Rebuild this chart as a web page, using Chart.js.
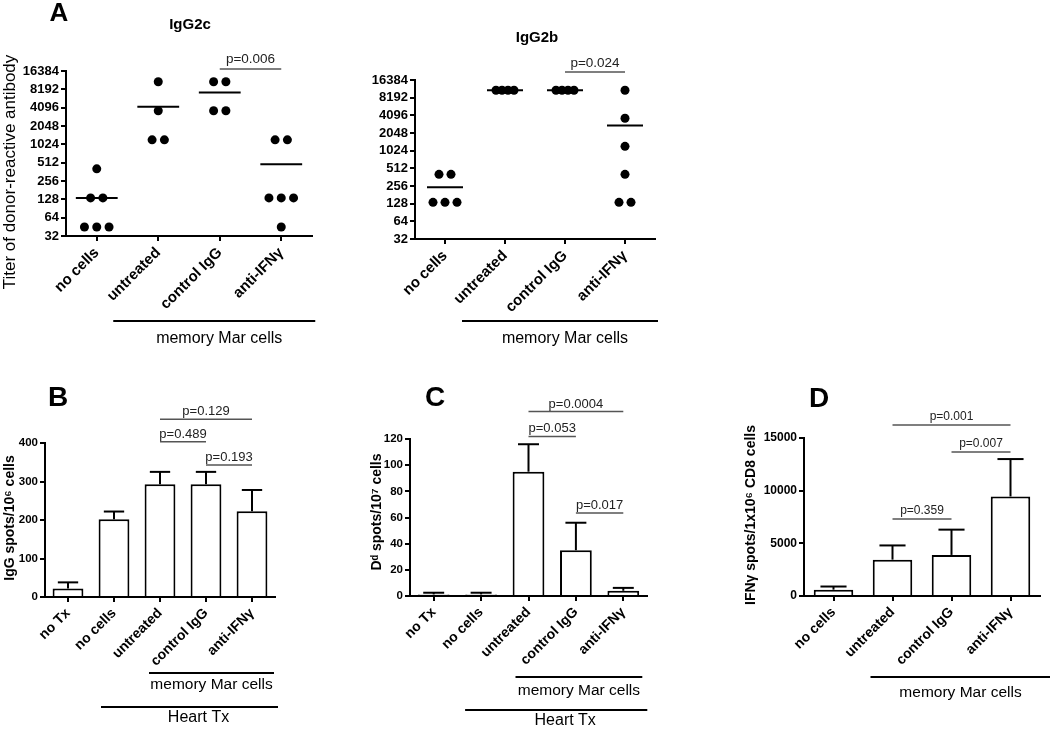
<!DOCTYPE html>
<html>
<head>
<meta charset="utf-8">
<script src="https://cdn.jsdelivr.net/npm/chart.js@4.4.1/dist/chart.umd.min.js"></script>
<style>
body { margin: 0; background: #fff; width: 1050px; height: 729px; position: relative; overflow: hidden; }
canvas { position: absolute; }
</style>
</head>
<body>
<canvas id="cA1" width="335" height="355" style="left:0;top:0"></canvas>
<canvas id="cA2" width="345" height="355" style="left:335px;top:0"></canvas>
<canvas id="cB" width="335" height="364" style="left:0;top:365px"></canvas>
<canvas id="cC" width="345" height="364" style="left:335px;top:365px"></canvas>
<canvas id="cD" width="370" height="364" style="left:680px;top:365px"></canvas>
<script>
// categories
var catsA = ['no cells', 'untreated', 'control IgG', 'anti-IFNγ'];
var catsBC = ['no Tx', 'no cells', 'untreated', 'control IgG', 'anti-IFNγ'];
var catsD = ['no cells', 'untreated', 'control IgG', 'anti-IFNγ'];

// panel A titers, one array per group
var titerTicks = [32, 64, 128, 256, 512, 1024, 2048, 4096, 8192, 16384];
var igg2c = [
	[405, 135, 135, 45, 45, 45],
	[10935, 3645, 1215, 1215],
	[10935, 10935, 3645, 3645],
	[1215, 1215, 135, 135, 135, 45]
];
var igg2b = [
	[405, 405, 135, 135, 135],
	[10935, 10935, 10935, 10935],
	[10935, 10935, 10935, 10935],
	[10935, 3645, 1215, 405, 135, 135]
];

// panels B-D: mean and SEM
var iggSpots = [22, 202, 293, 293, 223];
var iggSem = [16, 20, 32, 32, 55];
var ddSpots = [1.2, 1.2, 95, 35, 4];
var ddSem = [1.3, 1.3, 21, 21, 2.2];
var ifnSpots = [600, 3450, 3900, 9450];
var ifnSem = [300, 1350, 2400, 3550];

// p-value brackets: [from, to, level, label]
var pA1 = [[2, 3, 17700, 'p=0.006']];
var pA2 = [[2, 3, 22400, 'p=0.024']];
var pB = [[2, 4, 462, 'p=0.129'], [2, 3, 403, 'p=0.489'], [3, 4, 343, 'p=0.193']];
var pC = [[2, 4, 141, 'p=0.0004'], [2, 3, 122, 'p=0.053'], [3, 4, 63.5, 'p=0.017']];
var pD = [[1, 3, 16235, 'p=0.001'], [2, 3, 13670, 'p=0.007'], [1, 2, 7310, 'p=0.359']];

var FONT = 'Arial, "Liberation Sans", Helvetica, sans-serif';
Chart.defaults.font.family = FONT;
Chart.defaults.color = '#000';
Chart.defaults.animation = false;
Chart.defaults.plugins.legend.display = false;
Chart.defaults.plugins.tooltip.enabled = false;

var extras = {};

function text(ctx, s, x, y, font, color, align, base, rot) {
	ctx.save();
	ctx.translate(x, y);
	if (rot) ctx.rotate(rot);
	ctx.font = font;
	ctx.fillStyle = color || '#000';
	ctx.textAlign = align || 'center';
	ctx.textBaseline = base || 'middle';
	ctx.fillText(s, 0, 0);
	ctx.restore();
}

function line(ctx, x1, y1, x2, y2, color, w) {
	ctx.strokeStyle = color;
	ctx.lineWidth = w;
	ctx.beginPath();
	ctx.moveTo(x1, y1);
	ctx.lineTo(x2, y2);
	ctx.stroke();
}

var figurePlugin = {
	id: 'figure',
	afterDatasetsDraw: function(chart) {
		var ex = extras[chart.canvas.id];
		if (!ex) return;
		var ctx = chart.ctx, xs = chart.scales.x, ys = chart.scales.y;
		ctx.save();
		if (ex.sem) {
			var vals = chart.data.datasets[0].data;
			chart.getDatasetMeta(0).data.forEach(function(bar, i) {
				var yTop = ys.getPixelForValue(vals[i] + ex.sem[i]);
				var half = bar.width * 0.33;
				line(ctx, bar.x, bar.y, bar.x, yTop, '#000', 2);
				line(ctx, bar.x - half, yTop, bar.x + half, yTop, '#000', 2);
			});
		}
		if (ex.means) {
			ex.means.forEach(function(g, i) {
				var m = g.reduce(function(a, b) { return a + b; }, 0) / g.length;
				var y = ys.getPixelForValue(m);
				line(ctx, xs.getPixelForValue(i - ex.meanHalf), y, xs.getPixelForValue(i + ex.meanHalf), y, '#000', 2);
			});
		}
		ctx.restore();
	},
	afterDraw: function(chart) {
		var ex = extras[chart.canvas.id];
		if (!ex) return;
		var ctx = chart.ctx, xs = chart.scales.x, ys = chart.scales.y;
		var bottom = chart.chartArea.bottom;
		ctx.save();
		(ex.brackets || []).forEach(function(b) {
			var x1 = xs.getPixelForValue(b[0]), x2 = xs.getPixelForValue(b[1]);
			var y = ys.getPixelForValue(b[2]);
			line(ctx, x1, y, x2, y, '#555', 1.5);
			text(ctx, b[3], (x1 + x2) / 2, y - ex.pGap, ex.pSize + 'px ' + FONT, '#222', 'center', 'alphabetic');
		});
		(ex.groups || []).forEach(function(g) {
			var x1 = xs.getPixelForValue(g.from) - g.padL, x2 = xs.getPixelForValue(g.to) + g.padR;
			line(ctx, x1, bottom + g.dy, x2, bottom + g.dy, '#000', 2);
			text(ctx, g.label, (x1 + x2) / 2 + g.dx, bottom + g.tdy, g.size + 'px ' + FONT, '#000');
		});
		if (ex.letter) text(ctx, ex.letter[0], ex.letter[1], ex.letter[2], 'bold ' + ex.letter[3] + 'px ' + FONT);
		if (ex.title) text(ctx, ex.title[0], ex.title[1], ex.title[2], 'bold 15px ' + FONT);
		if (ex.yTitle) text(ctx, ex.yTitle[0], ex.yTitle[1], ex.yTitle[2], ex.yTitle[3], '#000', 'center', 'middle', -Math.PI / 2);
		ctx.restore();
	}
};
Chart.register(figurePlugin);

function jitter(groups, wide, narrow) {
	var pts = [];
	groups.forEach(function(vals, i) {
		var counts = {};
		vals.forEach(function(v) { counts[v] = (counts[v] || 0) + 1; });
		Object.keys(counts).forEach(function(k) {
			var n = counts[k], step = n >= 4 ? narrow : wide;
			for (var j = 0; j < n; j++) pts.push({ x: i + (j - (n - 1) / 2) * step, y: +k });
		});
	});
	return pts;
}

function axisGrid() {
	return { drawOnChartArea: false, color: '#000', lineWidth: 2, tickLength: 5, offset: false };
}

function scatterChart(id, groups, cats, pad, yw, xh) {
	return new Chart(document.getElementById(id), {
		type: 'scatter',
		data: { datasets: [{ data: jitter(groups, 0.2, 0.1), pointRadius: 4.5, pointHoverRadius: 4.5, backgroundColor: '#000', borderColor: '#000', borderWidth: 0 }] },
		options: {
			responsive: false,
			layout: { padding: pad },
			scales: {
				x: {
					type: 'linear', min: -0.5, max: 3.5,
					afterBuildTicks: function(s) { s.ticks = cats.map(function(c, i) { return { value: i }; }); },
					afterFit: function(s) { s.height = xh; },
					ticks: { callback: function(v) { return cats[v]; }, minRotation: 45, maxRotation: 45, padding: 3, autoSkip: false, font: { size: 15, weight: 'bold' }, color: '#000' },
					grid: axisGrid(),
					border: { color: '#000', width: 2 }
				},
				y: {
					type: 'logarithmic', min: 32, max: 16384,
					afterBuildTicks: function(s) { s.ticks = titerTicks.map(function(v) { return { value: v }; }); },
					afterFit: function(s) { s.width = yw; },
					ticks: { callback: function(v) { return String(v); }, autoSkip: false, padding: 2, font: { size: 13, weight: 'bold' }, color: '#000' },
					grid: axisGrid(),
					border: { color: '#000', width: 2 }
				}
			}
		}
	});
}

function barChart(id, cats, vals, max, step, pad, yw, xh, tickSize) {
	return new Chart(document.getElementById(id), {
		type: 'bar',
		data: { labels: cats, datasets: [{ data: vals, backgroundColor: '#fff', borderColor: '#000', borderWidth: 2, barPercentage: 0.67, categoryPercentage: 1 }] },
		options: {
			responsive: false,
			layout: { padding: pad },
			scales: {
				x: {
					afterFit: function(s) { s.height = xh; },
					ticks: { minRotation: 45, maxRotation: 45, padding: 3, autoSkip: false, font: { size: 14, weight: 'bold' }, color: '#000' },
					grid: axisGrid(),
					border: { color: '#000', width: 2 }
				},
				y: {
					min: 0, max: max,
					afterFit: function(s) { s.width = yw; },
					ticks: { stepSize: step, callback: function(v) { return String(v); }, padding: 2, font: { size: tickSize, weight: 'bold' }, color: '#000' },
					grid: axisGrid(),
					border: { color: '#000', width: 2 }
				}
			}
		}
	});
}

extras.cA1 = {
	means: igg2c, meanHalf: 0.34, brackets: pA1, pGap: 6, pSize: 13.5,
	groups: [{ from: 1, to: 3, padL: 45, padR: 34, dy: 85, tdy: 103, dx: 5, label: 'memory Mar cells', size: 16 }],
	letter: ['A', 59, 14, 26], title: ['IgG2c', 190, 25],
	yTitle: ['Titer of donor-reactive antibody', 10, 172, '17px ' + FONT]
};
extras.cA2 = {
	means: igg2b, meanHalf: 0.3, brackets: pA2, pGap: 5, pSize: 13.5,
	groups: [{ from: 1, to: 3, padL: 43, padR: 33, dy: 82, tdy: 100, dx: 5, label: 'memory Mar cells', size: 16 }],
	title: ['IgG2b', 202, 38]
};
extras.cB = {
	sem: iggSem, brackets: pB, pGap: 4, pSize: 13,
	groups: [
		{ from: 2, to: 4, padL: 11, padR: 22, dy: 76, tdy: 88, dx: 0, label: 'memory Mar cells', size: 15.5 },
		{ from: 1, to: 4, padL: 13, padR: 26, dy: 110, tdy: 121, dx: 9, label: 'Heart Tx', size: 16 }
	],
	letter: ['B', 58, 33, 28],
	yTitle: ['IgG spots/10\u2076 cells', 10, 153, 'bold 14px ' + FONT]
};
extras.cC = {
	sem: ddSem, brackets: pC, pGap: 4, pSize: 13,
	groups: [
		{ from: 2, to: 4, padL: 13, padR: 19, dy: 81, tdy: 95, dx: 0, label: 'memory Mar cells', size: 15.5 },
		{ from: 1, to: 4, padL: 16, padR: 24, dy: 114, tdy: 125, dx: 9, label: 'Heart Tx', size: 16 }
	],
	letter: ['C', 100, 33, 28],
	yTitle: ['D\u1d48 spots/10\u2077 cells', 42, 147, 'bold 14px ' + FONT]
};
extras.cD = {
	sem: ifnSem, brackets: pD, pGap: 5, pSize: 12,
	groups: [{ from: 1, to: 3, padL: 22, padR: 40, dy: 81, tdy: 97, dx: 0, label: 'memory Mar cells', size: 15.5 }],
	letter: ['D', 139, 34, 28],
	yTitle: ['IFN\u03b3 spots/1x10\u2076 CD8 cells', 71, 150, 'bold 14px ' + FONT]
};

scatterChart('cA1', igg2c, catsA, { top: 71, right: 23 }, 66, 119);
scatterChart('cA2', igg2b, catsA, { top: 80, right: 25 }, 80, 116);
barChart('cB', catsBC, iggSpots, 400, 100, { top: 78, right: 60 }, 45, 132, 11.5);
barChart('cC', catsBC, ddSpots, 120, 20, { top: 74, right: 33 }, 75, 133, 11.5);
barChart('cD', catsD, ifnSpots, 15000, 5000, { top: 73, right: 10 }, 124, 133, 12);
</script>
</body>
</html>
